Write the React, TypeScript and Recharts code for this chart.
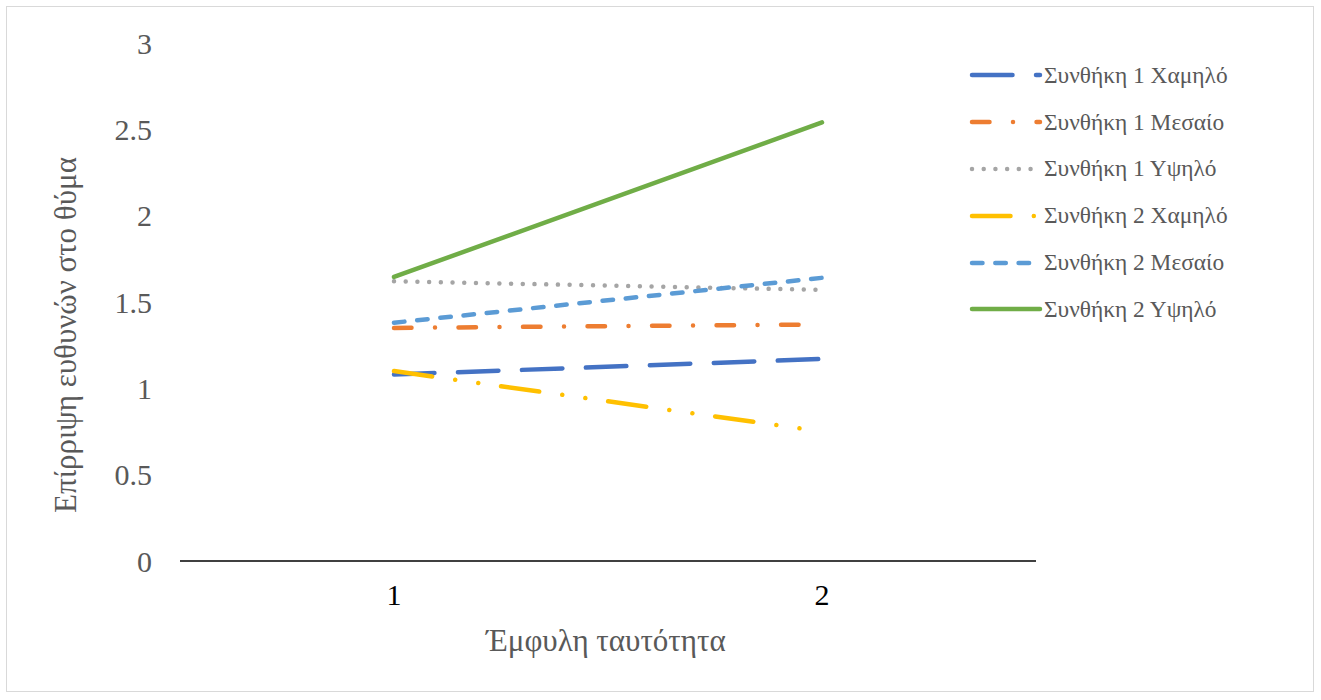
import React from 'react';
import { LineChart, Line, XAxis, YAxis, Label } from 'recharts';

const categories = [1, 2];
const s1Low = [1.08, 1.17];
const s1Mid = [1.35, 1.37];
const s1High = [1.62, 1.57];
const s2Low = [1.1, 0.75];
const s2Mid = [1.38, 1.64];
const s2High = [1.645, 2.54];
const yTicks = [0, 0.5, 1, 1.5, 2, 2.5, 3];
const xTicks = [1, 2];

const seriesNames = [
  'Συνθήκη 1 Χαμηλό',
  'Συνθήκη 1 Μεσαίο',
  'Συνθήκη 1 Υψηλό',
  'Συνθήκη 2 Χαμηλό',
  'Συνθήκη 2 Μεσαίο',
  'Συνθήκη 2 Υψηλό',
];

const seriesValues = [s1Low, s1Mid, s1High, s2Low, s2Mid, s2High];

const styles = [
  { color: '#4472C4', dash: '40.5 23.5' },
  { color: '#ED7D31', dash: '17.5 23.5 0.01 23.5' },
  { color: '#A5A5A5', dash: '0.01 11.7' },
  { color: '#FFC000', dash: '38.5 23.3 0.01 23.3 0.01 23' },
  { color: '#5B9BD5', dash: '10.5 12.8' },
  { color: '#70AD47', dash: undefined as string | undefined },
];

const data = categories.map((c, i) => {
  const row: Record<string, number> = { x: c };
  seriesNames.forEach((n, k) => {
    row[n] = seriesValues[k][i];
  });
  return row;
});

const FONT = '"Liberation Serif", "Times New Roman", serif';

const LegendBlock = () => (
  <div style={{ position: 'absolute', left: 968, top: 52, fontFamily: FONT }}>
    {seriesNames.map((n, k) => (
      <div key={n} style={{ display: 'flex', alignItems: 'center', height: 46.8 }}>
        <svg width={76} height={12} style={{ display: 'block' }}>
          <line
            x1={4}
            y1={6}
            x2={72}
            y2={6}
            stroke={styles[k].color}
            strokeWidth={4.5}
            strokeLinecap="round"
            strokeDasharray={styles[k].dash}
          />
        </svg>
        <span style={{ fontSize: 23.4, color: '#595959', whiteSpace: 'nowrap' }}>{n}</span>
      </div>
    ))}
  </div>
);

export default function App() {
  return (
    <div style={{ position: 'absolute', left: 0, top: 0, width: 1321, height: 700, background: '#fff' }}>
      <div
        style={{
          position: 'absolute',
          left: 6,
          top: 6,
          width: 1308,
          height: 686,
          border: '1.5px solid #d9d9d9',
          boxSizing: 'border-box',
        }}
      />
      <div style={{ position: 'absolute', left: 0, top: 0 }}>
        <LineChart
          width={1321}
          height={700}
          data={data}
          margin={{ top: 43, right: 285, bottom: 0, left: 0 }}
        >
          <XAxis
            type="number"
            dataKey="x"
            domain={[0.5, 2.5]}
            ticks={xTicks}
            height={139}
            axisLine={{ stroke: '#000', strokeWidth: 1.5 }}
            tickLine={false}
            tickSize={0}
            tickMargin={23}
            tick={{ fill: '#000', fontSize: 30, fontFamily: FONT }}
          >
            <Label
              content={() => (
                <text
                  x={606}
                  y={640}
                  textAnchor="middle"
                  dominantBaseline="central"
                  fill="#595959"
                  fontSize={31}
                  fontFamily={FONT}
                >
                  Έμφυλη ταυτότητα
                </text>
              )}
            />
          </XAxis>
          <YAxis
            type="number"
            domain={[0, 3]}
            ticks={yTicks}
            width={180}
            axisLine={false}
            tickLine={false}
            tickSize={0}
            tickMargin={28}
            tick={{ fill: '#595959', fontSize: 30, fontFamily: FONT }}
          >
            <Label
              content={() => (
                <text
                  x={65}
                  y={335}
                  transform="rotate(-90 65 335)"
                  textAnchor="middle"
                  dominantBaseline="central"
                  fill="#595959"
                  fontSize={31}
                  fontFamily={FONT}
                >
                  Επίρριψη ευθυνών στο θύμα
                </text>
              )}
            />
          </YAxis>
          {seriesNames.map((n, k) => (
            <Line
              key={n}
              type="linear"
              dataKey={n}
              name={n}
              stroke={styles[k].color}
              strokeWidth={4.5}
              strokeLinecap="round"
              strokeDasharray={styles[k].dash}
              dot={false}
              activeDot={false}
              isAnimationActive={false}
            />
          ))}
        </LineChart>
      </div>
      <LegendBlock />
    </div>
  );
}
